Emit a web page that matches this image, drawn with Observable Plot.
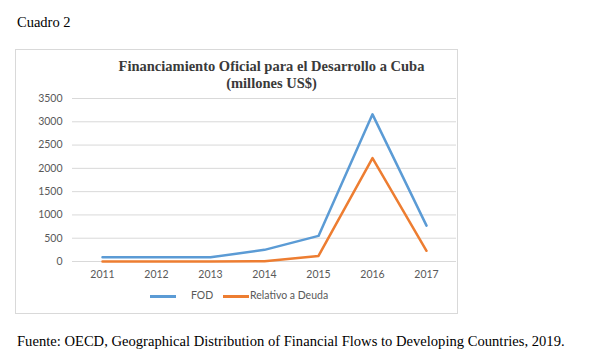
<!DOCTYPE html>
<html>
<head>
<meta charset="utf-8">
<script src="https://cdn.jsdelivr.net/npm/d3@7"></script>
<script src="https://cdn.jsdelivr.net/npm/@observablehq/plot@0.6"></script>
<style>
  body { margin: 0; background: #fff; }
  #page { position: relative; width: 600px; height: 363px; overflow: hidden; font-family: "Liberation Serif", "Times New Roman", serif; }
  #cuadro { position: absolute; left: 17px; top: 14px; font-size: 14.5px; color: #000; }
  #box { position: absolute; left: 15px; top: 49px; width: 441px; height: 263px; border: 1px solid #d9d9d9; }
  #title { position: absolute; left: 35px; width: 441px; top: 8px; text-align: center; font-weight: bold; font-size: 14.5px; line-height: 17px; color: #3a3a3a; white-space: nowrap; }
  #plot { position: absolute; left: 0; top: 36px; }
  #legend { position: absolute; top: 239px; left: 0; font-family: Lato, "Open Sans", sans-serif; font-size: 10.5px; color: #595959; }
  .sw { position: absolute; height: 3px; width: 26px; top: 6px; }
  .lt { position: absolute; top: 0; white-space: nowrap; }
  #caption { position: absolute; left: 17px; top: 333px; font-size: 14.6px; color: #000; white-space: nowrap; }
</style>
</head>
<body>
<div id="page">
  <div id="cuadro">Cuadro 2</div>
  <div id="box">
    <div id="title">Financiamiento Oficial para el Desarrollo a Cuba<br>(millones US$)</div>
    <div id="plot"></div>
    <div id="legend"></div>
  </div>
  <div id="caption">Fuente: OECD, Geographical Distribution of Financial Flows to Developing Countries, 2019.</div>
</div>
<script>
const years = ["2011", "2012", "2013", "2014", "2015", "2016", "2017"];
const fod = [90, 90, 90, 250, 550, 3160, 770];
const deuda = [0, 0, 0, 5, 120, 2220, 230];
const yTicks = [0, 500, 1000, 1500, 2000, 2500, 3000, 3500];
const seriesNames = ["FOD", "Relativo a Deuda"];
const seriesColors = ["#5b9bd5", "#ed7d31"];

const rows = [];
years.forEach((y, i) => {
  rows.push({year: y, value: fod[i], series: seriesNames[0]});
  rows.push({year: y, value: deuda[i], series: seriesNames[1]});
});

const chart = Plot.plot({
  width: 441,
  height: 195,
  marginLeft: 56,
  marginRight: 1,
  marginTop: 12,
  marginBottom: 20,
  style: { fontFamily: "Lato, 'Open Sans', sans-serif", fontSize: "10.5px", color: "#595959", background: "transparent" },
  x: { type: "point", domain: years, padding: 0.5, label: null },
  y: { domain: [0, 3500], label: null },
  color: { domain: seriesNames, range: seriesColors },
  marks: [
    Plot.ruleY(yTicks, { stroke: "#d9d9d9", strokeWidth: 1 }),
    Plot.axisY({ ticks: yTicks, tickFormat: d3.format("d"), tickSize: 0, tickPadding: 10, label: null, fill: "#595959" }),
    Plot.axisX({ tickSize: 0, tickPadding: 9, label: null, fill: "#595959" }),
    Plot.line(rows, { x: "year", y: "value", z: "series", stroke: "series", strokeWidth: 2.5, strokeLinejoin: "round" })
  ]
});
document.getElementById("plot").appendChild(chart);

const legend = document.getElementById("legend");
const legendPos = [{sw: 134, tx: 175}, {sw: 207, tx: 234}];
seriesNames.forEach((name, i) => {
  const s = document.createElement("div");
  s.className = "sw";
  s.style.left = legendPos[i].sw + "px";
  s.style.background = seriesColors[i];
  legend.appendChild(s);
  const t = document.createElement("div");
  t.className = "lt";
  t.style.left = legendPos[i].tx + "px";
  t.textContent = name;
  legend.appendChild(t);
});
</script>
</body>
</html>
